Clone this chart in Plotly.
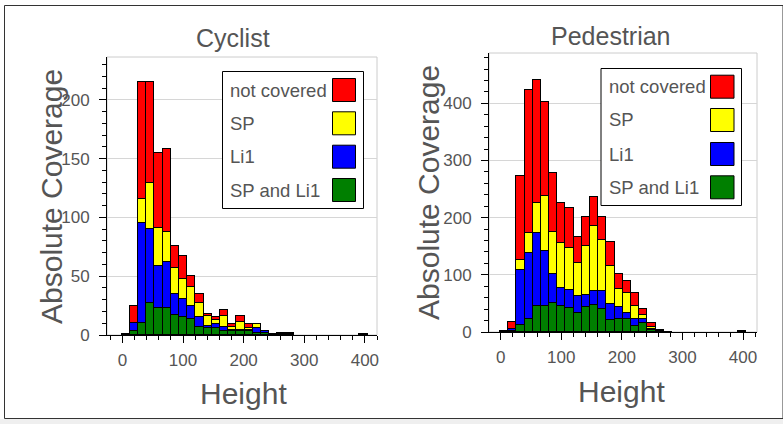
import plotly.graph_objects as go
import numpy as np

W, H = 783, 424

# ---- data (height histogram, 30 bins) ----
BIN_START = -1.27
BIN_WIDTH = 13.52
N_BINS = 30

cyc_sp_li1 = [1, 3, 10, 27, 23, 23, 17, 15, 14, 7, 6, 6, 3, 3, 3, 3, 2, 2, 0.5, 0.5, 0.5, 0, 0, 0, 0, 0, 0, 0, 0, 1]
cyc_li1 = [0, 7, 85, 63, 36, 39, 18, 16, 11, 8, 2, 3, 4, 1, 1, 1, 4, 1, 0, 0, 1, 0, 0, 0, 0, 0, 0, 0, 0, 0]
cyc_sp = [0, 0, 21, 39, 32, 26, 22, 17, 16, 12, 8, 4, 9, 3, 7, 2, 3, 0, 0, 0, 0, 0, 0, 0, 0, 0, 0, 0, 0, 0]
cyc_not = [0, 15, 99, 86, 64, 70, 19, 19, 9, 8, 2, 2, 5, 2, 5, 3, 0, 0, 0, 1, 0, 0, 0, 0, 0, 0, 0, 0, 0, 0]

ped_sp_li1 = [1, 1.5, 12, 23, 45, 45, 50, 45, 42, 34, 44, 48, 41, 21, 23, 22, 10, 16, 4, 2, 0.5, 0, 0, 0, 0, 0, 0, 0, 0, 1]
ped_li1 = [0, 4.5, 96, 115, 129, 96, 51, 32, 31, 29, 20, 23, 31, 28, 21, 12, 13, 6, 1, 0, 0, 0, 0, 0, 0, 0, 0, 0, 0, 0]
ped_sp = [0, 0, 18, 36, 51, 97, 74, 78, 74, 57, 87, 114, 89, 66, 31, 34, 22, 8, 4, 0.5, 0, 0, 0, 0, 0, 0, 0, 0, 0, 0]
ped_not = [0, 11, 146, 249, 216, 165, 103, 71, 70, 47, 50, 51, 40, 42, 27, 21, 24, 10, 6, 0.5, 0, 0, 0, 0, 0, 0, 0, 0, 0, 0]

categories = ["SP and Li1", "Li1", "SP", "not covered"]
colors = {"not covered": "#ff0000", "SP": "#ffff00", "Li1": "#0000ff", "SP and Li1": "#007f00"}
legend_order = ["not covered", "SP", "Li1", "SP and Li1"]

centers = BIN_START + BIN_WIDTH * (np.arange(N_BINS) + 0.5)

FONT = "Liberation Sans, Arial, Helvetica, sans-serif"
TXT = "#555555"

fig = go.Figure()

def nz(vals):
    return [v if v else None for v in vals]

panels = [
    ("x", "y", [cyc_sp_li1, cyc_li1, cyc_sp, cyc_not]),
    ("x2", "y2", [ped_sp_li1, ped_li1, ped_sp, ped_not]),
]
for xa, ya, series in panels:
    for name, vals in zip(categories, series):
        fig.add_trace(go.Bar(
            x=centers, y=nz(vals), width=BIN_WIDTH, name=name,
            marker=dict(color=colors[name], line=dict(color="black", width=1)),
            xaxis=xa, yaxis=ya, showlegend=False,
        ))

def px(x):
    return x / W

def py(y):
    return 1 - y / H

common_x = dict(
    tickmode="linear", tick0=0, dtick=100, ticks="outside", ticklen=7, tickcolor="black",
    showline=True, linecolor="black", linewidth=1, showgrid=False, zeroline=False,
    tickfont=dict(family=FONT, size=17, color=TXT), automargin=False, ticklabelstandoff=3,
    minor=dict(dtick=20, tick0=0, ticks="outside", ticklen=4, tickcolor="black", showgrid=False),
)
common_y = dict(
    tickmode="linear", tick0=0, ticks="outside", ticklen=7, tickcolor="black",
    showline=True, linecolor="black", linewidth=1, showgrid=True, gridcolor="#d6d6d6",
    zeroline=False, tickfont=dict(family=FONT, size=17, color=TXT), ticklabelstandoff=6,
    automargin=False,
)

fig.update_layout(
    width=W, height=H, margin=dict(l=0, r=0, t=0, b=0, pad=0, autoexpand=False), autosize=False,
    paper_bgcolor="white", plot_bgcolor="white", barmode="stack", bargap=0,
    xaxis=dict(domain=[px(107), px(377)], range=[-25.4, 420], anchor="y", **common_x),
    yaxis=dict(domain=[py(335), py(57)], range=[0, 236.5], dtick=50, anchor="x",
               minor=dict(dtick=10, tick0=0, ticks="outside", ticklen=4, tickcolor="black", showgrid=False),
               **common_y),
    xaxis2=dict(domain=[px(489), px(757)], range=[-19.3, 423], anchor="y2", **common_x),
    yaxis2=dict(domain=[py(332), py(53)], range=[0, 488], dtick=100, anchor="x2",
                minor=dict(dtick=20, tick0=0, ticks="outside", ticklen=4, tickcolor="black", showgrid=False),
                **common_y),
    showlegend=False,
)

shapes = []
annotations = []

# outer figure border and grey strip at bottom
shapes.append(dict(type="rect", xref="paper", yref="paper", x0=px(4.5), x1=1, y0=py(418.5), y1=py(5.5),
                   line=dict(color="#333333", width=1), fillcolor="rgba(0,0,0,0)", layer="below"))
shapes.append(dict(type="rect", xref="paper", yref="paper", x0=0, x1=1, y0=0, y1=py(419),
                   line=dict(width=0), fillcolor="#efefef", layer="below"))

# light frames around plot areas
for xd, yd in [("x domain", "y domain"), ("x2 domain", "y2 domain")]:
    shapes.append(dict(type="rect", xref=xd, yref=yd, x0=0, x1=1, y0=0, y1=1,
                       line=dict(color="#cccccc", width=1), layer="below"))

# titles and axis titles
for text, x, y in [("Cyclist", 233, 38), ("Pedestrian", 611, 36)]:
    annotations.append(dict(text=text, x=px(x), y=py(y), xref="paper", yref="paper", showarrow=False,
                            xanchor="center", yanchor="middle", font=dict(family=FONT, size=25, color=TXT)))
for x, y in [(243, 393), (621, 391)]:
    annotations.append(dict(text="Height", x=px(x), y=py(y), xref="paper", yref="paper", showarrow=False,
                            xanchor="center", yanchor="middle", font=dict(family=FONT, size=30, color=TXT)))
for x, y in [(52, 197), (428, 193)]:
    annotations.append(dict(text="Absolute Coverage", x=px(x), y=py(y), xref="paper", yref="paper",
                            showarrow=False, textangle=-90, xanchor="center", yanchor="middle",
                            font=dict(family=FONT, size=30, color=TXT)))

# custom legends (text left, swatch right)
legend_boxes = [
    dict(box=(222.5, 71.5, 363.5, 208.5), sq=(332.5, 355.5), rows=[90, 123.3, 156.7, 190], tx=228),
    dict(box=(601, 68.5, 741.5, 205.5), sq=(710.5, 734), rows=[86.7, 120, 154, 187.3], tx=606.5),
]
for lg in legend_boxes:
    x0, y0, x1, y1 = lg["box"]
    shapes.append(dict(type="rect", xref="paper", yref="paper", x0=px(x0), x1=px(x1), y0=py(y1), y1=py(y0),
                       line=dict(color="black", width=1), fillcolor="white", layer="above"))
    for name, yc in zip(legend_order, lg["rows"]):
        sx0, sx1 = lg["sq"]
        shapes.append(dict(type="rect", xref="paper", yref="paper", x0=px(sx0), x1=px(sx1),
                           y0=py(yc + 11.5), y1=py(yc - 11.5),
                           line=dict(color="black", width=1), fillcolor=colors[name], layer="above"))
        annotations.append(dict(text=name, x=px(lg["tx"]), y=py(yc), xref="paper", yref="paper",
                                showarrow=False, xanchor="left", yanchor="middle",
                                font=dict(family=FONT, size=18.5, color=TXT)))

fig.update_layout(shapes=shapes, annotations=annotations)
fig.write_html("out.html")
